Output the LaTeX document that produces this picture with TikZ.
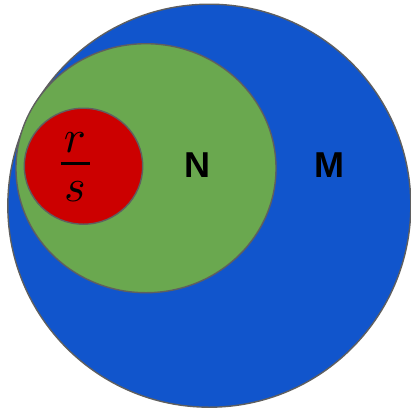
\documentclass[tikz,border=0pt]{standalone}
\usepackage{amsmath}
\usepackage{graphicx}
\usepackage{fontspec}
\setsansfont{Liberation Sans}
\usetikzlibrary{positioning}

\definecolor{setM}{HTML}{1155CC}
\definecolor{setN}{HTML}{6AA84F}
\definecolor{setQ}{HTML}{CC0000}
\definecolor{rim}{HTML}{5F5F5F}

\begin{document}
\begin{tikzpicture}[x=1pt, y=-1pt,
    region/.style={draw=rim, line width=1.4pt},
    setlabel/.style={font=\sffamily\bfseries\fontsize{36}{40}\selectfont, inner sep=0pt},
    fracpart/.style={inner sep=0pt}]

        \useasboundingbox (0,0) rectangle (411,410);

        % M: big blue disc
        \draw[region, fill=setM] (209.3,205.7) circle (201.5);

        % N: green ellipse
        \draw[region, fill=setN] (146,168.2) ellipse [x radius=130, y radius=124.5];

        % r/s: red ellipse
        \draw[region, fill=setQ] (83.5,166.2) ellipse [x radius=59.2, y radius=58];

        % Labels
        \node[setlabel] (labN) at (197,165.5) {N};
        \node[setlabel] (labM) at (329,165.5) {M};

        % Fraction
        \node[fracpart, anchor=base] (num) at (75,152) {\scalebox{4.6}{$r$}};
        \node[fracpart, anchor=base] (den) at (75,201.5) {\scalebox{4.6}{$s$}};
        \coordinate (barL) at (60.5,163);
        \coordinate (barR) at (89.5,163);
        \draw[line width=3pt] (barL) -- (barR);

    \end{tikzpicture}
\end{document}
